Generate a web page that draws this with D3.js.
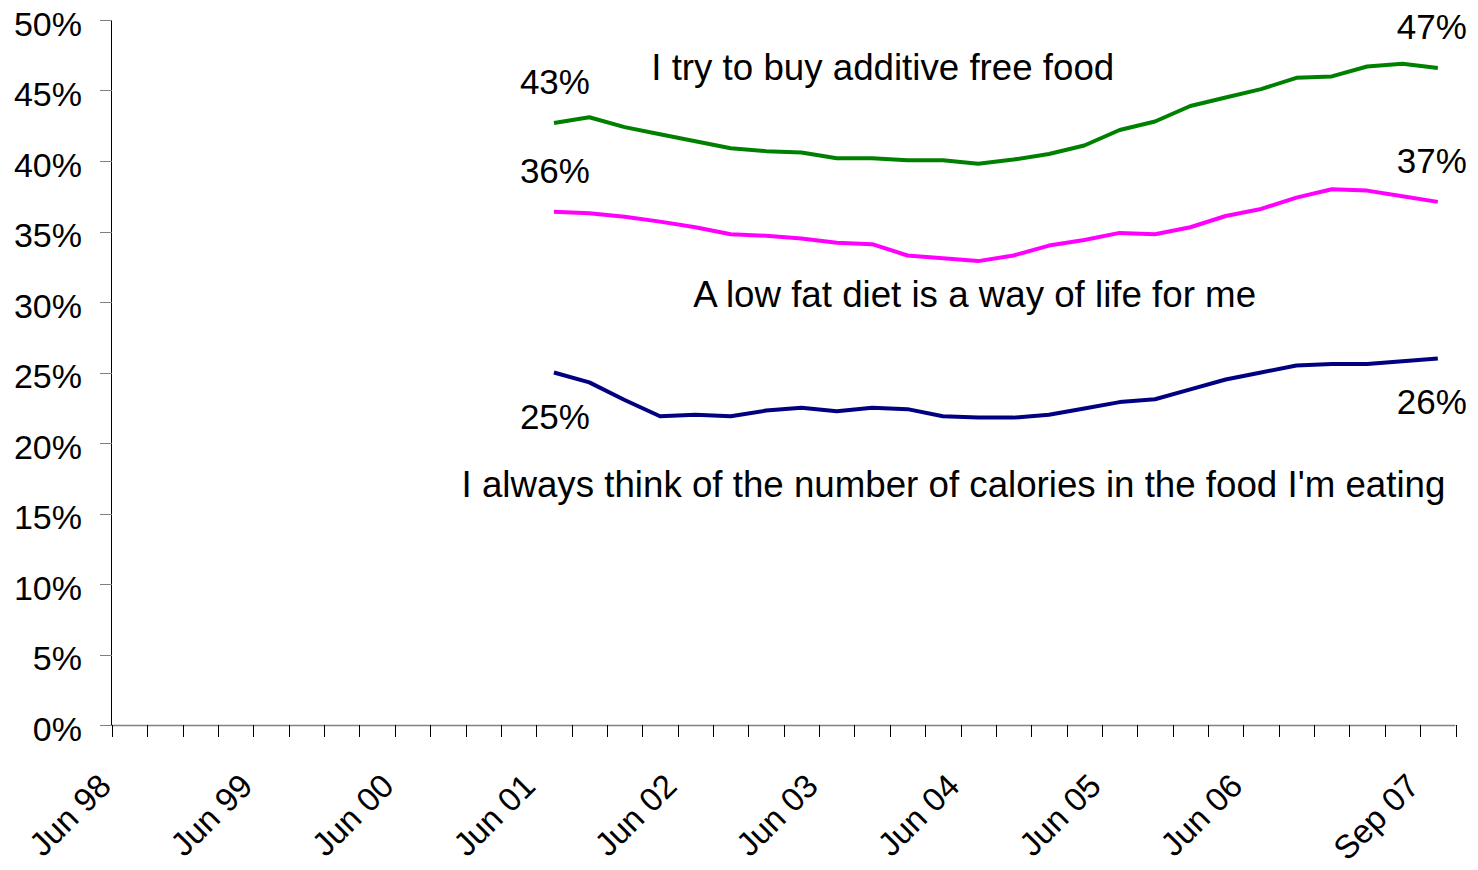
<html>
<head>
  <meta charset="utf-8">
  <title>Food attitudes</title>
  <script src="https://cdn.jsdelivr.net/npm/d3@7/dist/d3.min.js"></script>
  <style>
    body { margin: 0; background: #fff; }
    text { font-family: "Liberation Sans", Arial, sans-serif; fill: #000; }
  </style>
</head>
<body>
  <div id="chart"></div>

  <script type="text/javascript">
    // quarterly categories, Jun 98 .. Sep 07
    var categories = [
      'Jun 98', 'Sep 98', 'Dec 98', 'Mar 99', 'Jun 99', 'Sep 99', 'Dec 99', 'Mar 00',
      'Jun 00', 'Sep 00', 'Dec 00', 'Mar 01', 'Jun 01', 'Sep 01', 'Dec 01', 'Mar 02',
      'Jun 02', 'Sep 02', 'Dec 02', 'Mar 03', 'Jun 03', 'Sep 03', 'Dec 03', 'Mar 04',
      'Jun 04', 'Sep 04', 'Dec 04', 'Mar 05', 'Jun 05', 'Sep 05', 'Dec 05', 'Mar 06',
      'Jun 06', 'Sep 06', 'Dec 06', 'Mar 07', 'Jun 07', 'Sep 07'
    ];
    // only these get a label on the axis
    var shownLabels = ['Jun 98', 'Jun 99', 'Jun 00', 'Jun 01', 'Jun 02', 'Jun 03',
                       'Jun 04', 'Jun 05', 'Jun 06', 'Sep 07'];

    var yTicks = [0, 5, 10, 15, 20, 25, 30, 35, 40, 45, 50];

    // series start at Jun 01
    var seriesStart = 'Jun 01';

    var additiveFree = [42.7, 43.1, 42.4, 41.9, 41.4, 40.9, 40.7, 40.6, 40.2, 40.2, 40.05, 40.05, 39.8,
                        40.1, 40.5, 41.1, 42.2, 42.8, 43.9, 44.5, 45.1, 45.9, 46.0, 46.7, 46.9, 46.6];
    var lowFat = [36.4, 36.3, 36.05, 35.7, 35.3, 34.8, 34.7, 34.5, 34.2, 34.1, 33.3, 33.1, 32.9,
                  33.3, 34.0, 34.4, 34.9, 34.8, 35.3, 36.1, 36.6, 37.4, 38.0, 37.9, 37.5, 37.1];
    var calories = [25.0, 24.3, 23.05, 21.9, 22.0, 21.9, 22.3, 22.5, 22.25, 22.5, 22.4, 21.9, 21.8,
                    21.8, 22.0, 22.45, 22.9, 23.1, 23.8, 24.5, 25.0, 25.5, 25.6, 25.6, 25.8, 26.0];

    var seriesNames = ['I try to buy additive free food',
                       'A low fat diet is a way of life for me',
                       "I always think of the number of calories in the food I'm eating"];
    var seriesColors = ['#008000', '#ff00ff', '#000080'];
    var seriesValues = [additiveFree, lowFat, calories];
    // end labels: above or below the line
    var labelSide = ['above', 'above', 'below'];
    // where the series names sit: category position (index units) and value
    var namePos = [[21.3, 45.75], [23.9, 29.65], [23.3, 16.15]];

    var width = 1478, height = 870;
    var plot = {left: 112, right: 1455.5, top: 20, bottom: 725};

    var svg = d3.select('#chart')
                .append('svg')
                  .attr('width', width)
                  .attr('height', height);

    var x = d3.scaleBand()
              .domain(categories)
              .range([plot.left, plot.right])
              .padding(0);
    var xi = d3.scaleLinear()
               .domain([0, categories.length])
               .range([plot.left, plot.right]);
    var y = d3.scaleLinear()
              .domain([0, 50])
              .range([plot.bottom, plot.top]);

    // y axis
    svg.append('line')
         .attr('x1', plot.left - 0.5).attr('x2', plot.left - 0.5)
         .attr('y1', plot.top).attr('y2', plot.bottom)
         .style('stroke', '#000')
         .style('stroke-width', 1);

    svg.selectAll('.ytick')
         .data(yTicks)
         .enter()
         .append('line')
           .attr('class', 'ytick')
           .attr('x1', plot.left - 12).attr('x2', plot.left)
           .attr('y1', function(d) { return Math.round(y(d)) + 0.5; })
           .attr('y2', function(d) { return Math.round(y(d)) + 0.5; })
           .style('stroke', '#808080')
           .style('stroke-width', 1);

    svg.selectAll('.ylabel')
         .data(yTicks)
         .enter()
         .append('text')
           .attr('class', 'ylabel')
           .attr('x', 82)
           .attr('y', function(d) { return y(d) + 15.5; })
           .attr('text-anchor', 'end')
           .style('font-size', '34px')
           .text(function(d) { return d + '%'; });

    // x axis (Excel style: ticks between categories)
    svg.append('line')
         .attr('x1', plot.left).attr('x2', plot.right)
         .attr('y1', plot.bottom + 0.5).attr('y2', plot.bottom + 0.5)
         .style('stroke', '#808080')
         .style('stroke-width', 1.5);

    svg.selectAll('.xtick')
         .data(d3.range(categories.length + 1))
         .enter()
         .append('line')
           .attr('class', 'xtick')
           .attr('x1', function(d) { return Math.round(xi(d)) + 0.5; })
           .attr('x2', function(d) { return Math.round(xi(d)) + 0.5; })
           .attr('y1', plot.bottom)
           .attr('y2', plot.bottom + 12)
           .style('stroke', '#000')
           .style('stroke-width', 1);

    svg.selectAll('.xlabel')
         .data(shownLabels)
         .enter()
         .append('text')
           .attr('class', 'xlabel')
           .attr('text-anchor', 'end')
           .attr('transform', function(d) {
             return 'translate(' + (x(d) + 1) + ',' + (plot.bottom + 63) + ') rotate(-45)';
           })
           .style('font-size', '33px')
           .text(function(d) { return d; });

    // lines
    var startIdx = categories.indexOf(seriesStart);
    var line_function = d3.line()
                          .x(function(d, i) { return x(categories[startIdx + i]) + x.bandwidth() / 2; })
                          .y(function(d) { return y(d); })
                          .curve(d3.curveLinear);

    for (var s = 0; s < seriesValues.length; s++) {
      var vals = seriesValues[s];
      svg.append('path')
           .attr('d', line_function(vals))
           .style('fill', 'none')
           .style('stroke', seriesColors[s])
           .style('stroke-width', 4)
           .style('stroke-linejoin', 'round');

      var dy = labelSide[s] == 'above' ? -29 : 56;
      var firstX = x(categories[startIdx]) + x.bandwidth() / 2;
      var lastX = x(categories[startIdx + vals.length - 1]) + x.bandwidth() / 2;

      svg.append('text')
           .attr('x', firstX + 1)
           .attr('y', y(vals[0]) + dy)
           .attr('text-anchor', 'middle')
           .style('font-size', '35px')
           .text(Math.round(vals[0]) + '%');

      svg.append('text')
           .attr('x', lastX + 29)
           .attr('y', y(vals[vals.length - 1]) + dy)
           .attr('text-anchor', 'end')
           .style('font-size', '35px')
           .text(Math.round(vals[vals.length - 1]) + '%');

      svg.append('text')
           .attr('x', xi(namePos[s][0] + 0.5))
           .attr('y', y(namePos[s][1]))
           .attr('text-anchor', 'middle')
           .style('font-size', '36.7px')
           .text(seriesNames[s]);
    }
  </script>
</body>
</html>
